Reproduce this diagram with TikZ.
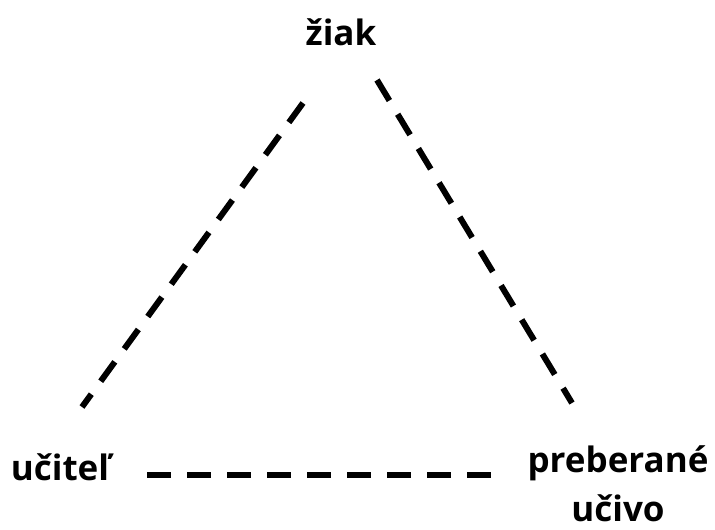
\documentclass[tikz,border=0pt]{standalone}
\usepackage{fontspec}
\setmainfont{Open Sans}
\begin{document}
\begin{tikzpicture}[x=1pt, y=-1pt, font=\fontsize{35}{42}\selectfont\bfseries,
  edge/.style={line width=6pt, dash pattern=on 24pt off 16pt}]
	\useasboundingbox (0,0) rectangle (715,530);
	% vrcholy trojuholnika
	\node[anchor=base, inner sep=0pt] (ziak) at (341,45) {žiak};
	\node[anchor=base, inner sep=0pt] (ucitel) at (60,480) {učiteľ};
	\node[anchor=base, inner sep=0pt] (ucivo1) at (618,472) {preberané};
	\node[anchor=base, inner sep=0pt] (ucivo2) at (618,521) {učivo};
	% konce ciar
	\coordinate (ziakL) at (303,103);
	\coordinate (ucitelT) at (82,407);
	\coordinate (ziakR) at (377,80);
	\coordinate (ucivoT) at (572,403);
	\coordinate (ucitelR) at (147,475);
	\coordinate (ucivoL) at (493,475);
	\draw[edge] (ziakL) -- (ucitelT);
	\draw[edge] (ziakR) -- (ucivoT);
	\draw[edge] (ucitelR) -- (ucivoL);
\end{tikzpicture}
\end{document}
